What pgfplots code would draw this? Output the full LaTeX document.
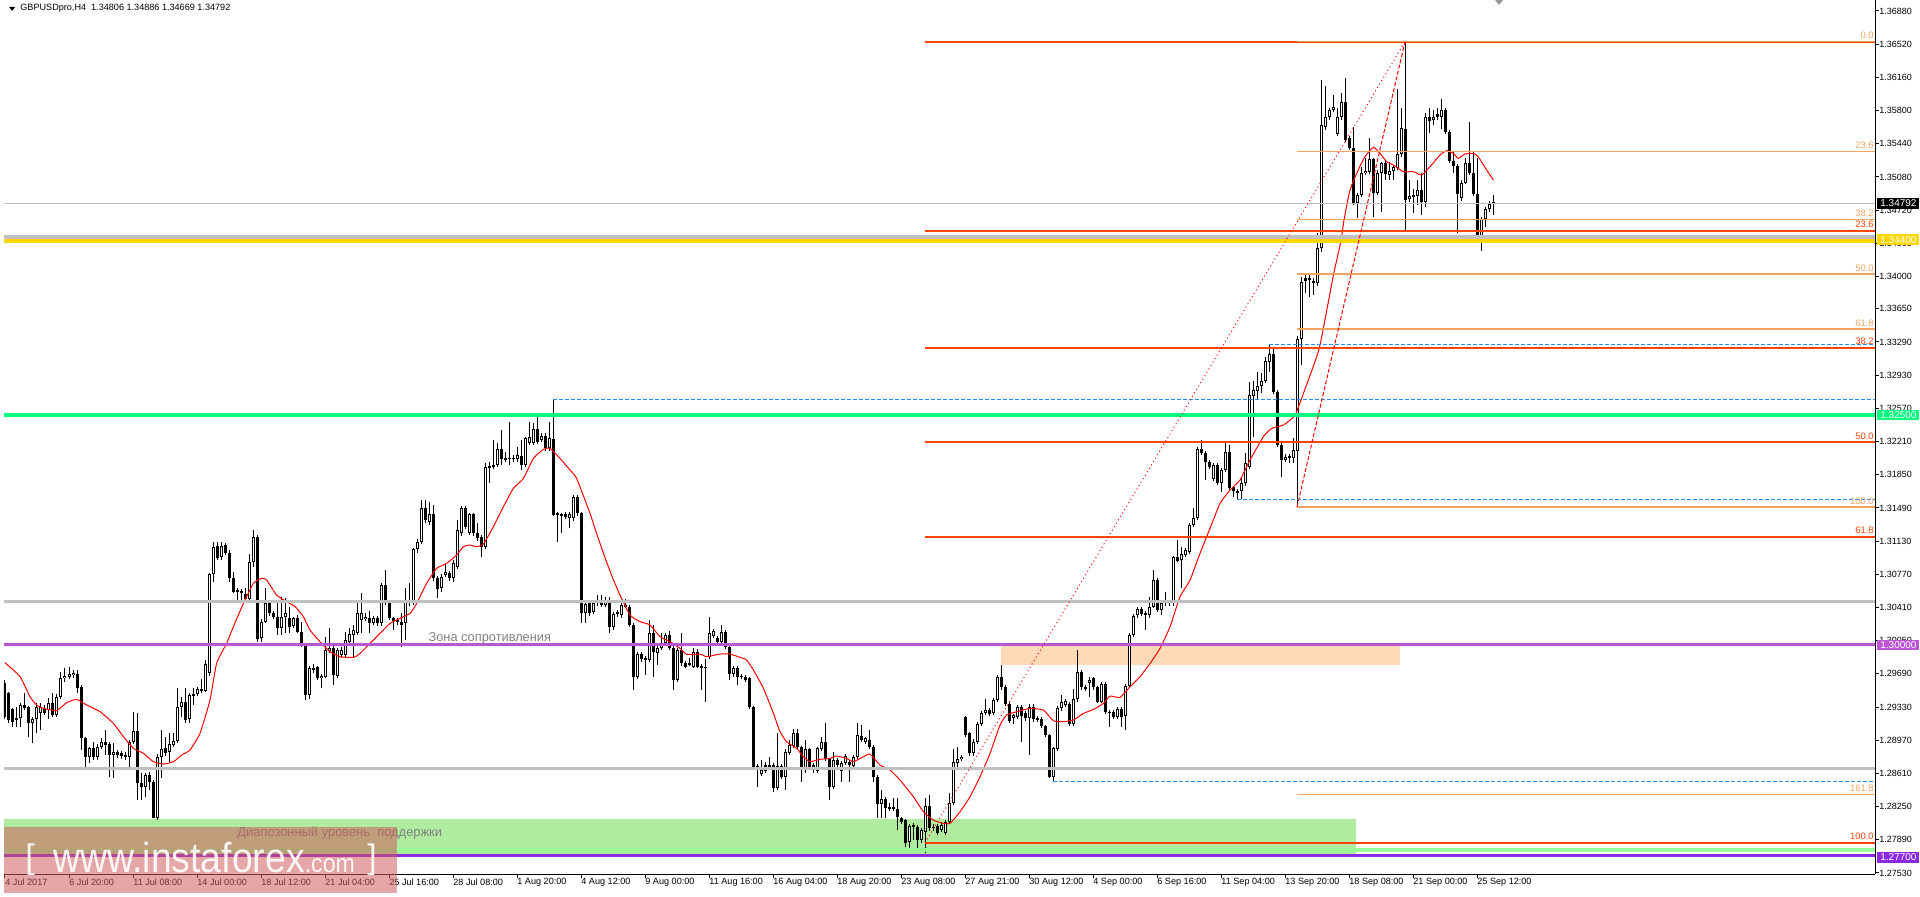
\documentclass[border=0pt]{standalone}
\usepackage{fontspec}
\setmainfont{Liberation Sans}
\usepackage{graphicx}
\usepackage{pgfplots}
\usepackage{pgfplotstable}
\pgfplotsset{compat=1.18}
\definecolor{fibred}{RGB}{255,69,0}
\definecolor{fiborange}{RGB}{244,164,96}
\definecolor{dblue}{RGB}{30,144,255}
\definecolor{silverc}{RGB}{192,192,192}
\definecolor{goldc}{RGB}{255,215,0}
\definecolor{springc}{RGB}{0,255,127}
\definecolor{orchidc}{RGB}{186,85,211}
\definecolor{violetc}{RGB}{138,43,226}
\definecolor{palegreenc}{RGB}{152,251,152}
\definecolor{zonegreen}{RGB}{176,236,160}
\definecolor{peach}{RGB}{255,218,185}
\definecolor{wmred}{RGB}{205,92,92}
\definecolor{txtgrey}{RGB}{128,128,128}

\pgfplotstableread{
x o h l c
0 1.29587 1.29620 1.29200 1.29226
1 1.29479 1.29497 1.29153 1.29189
2 1.29309 1.29320 1.29117 1.29171
3 1.29189 1.29334 1.29117 1.29208
4 1.29208 1.29370 1.29110 1.29352
5 1.29352 1.29479 1.29298 1.29316
6 1.29327 1.29340 1.29009 1.29153
7 1.29153 1.29226 1.28936 1.29200
8 1.29197 1.29370 1.29045 1.29334
9 1.29269 1.29370 1.29081 1.29334
10 1.29305 1.29350 1.29240 1.29269
11 1.29298 1.29424 1.29197 1.29370
12 1.29370 1.29479 1.29226 1.29244
13 1.29244 1.29470 1.29220 1.29443
14 1.29443 1.29714 1.29420 1.29641
15 1.29641 1.29750 1.29600 1.29667
16 1.29659 1.29768 1.29630 1.29688
17 1.29674 1.29732 1.29650 1.29703
18 1.29688 1.29732 1.29479 1.29533
19 1.29551 1.29569 1.28864 1.28991
20 1.28991 1.29009 1.28665 1.28792
21 1.28784 1.28900 1.28719 1.28882
22 1.28882 1.28950 1.28760 1.28792
23 1.28784 1.28930 1.28760 1.28900
24 1.28900 1.28991 1.28880 1.28954
25 1.28954 1.29081 1.28810 1.28918
26 1.28929 1.28950 1.28575 1.28810
27 1.28806 1.28936 1.28557 1.28839
28 1.28839 1.28860 1.28780 1.28810
29 1.28828 1.28850 1.28770 1.28799
30 1.28810 1.28840 1.28760 1.28792
31 1.28792 1.28972 1.28683 1.28954
32 1.28954 1.29280 1.28930 1.29074
33 1.29074 1.29262 1.28322 1.28502
34 1.28502 1.28611 1.28322 1.28466
35 1.28466 1.28620 1.28358 1.28593
36 1.28593 1.28629 1.28430 1.28520
37 1.28520 1.28540 1.28123 1.28130
38 1.28130 1.28820 1.28110 1.28792
39 1.28792 1.29081 1.28557 1.28871
40 1.28882 1.29009 1.28800 1.28835
41 1.28846 1.29045 1.28737 1.28929
42 1.28918 1.29045 1.28900 1.28965
43 1.28965 1.29533 1.28940 1.29327
44 1.29327 1.29443 1.29226 1.29381
45 1.29381 1.29533 1.29153 1.29189
46 1.29197 1.29479 1.29153 1.29461
47 1.29450 1.29533 1.29352 1.29471
48 1.29471 1.29550 1.29450 1.29522
49 1.29522 1.29630 1.29480 1.29508
50 1.29508 1.29840 1.29497 1.29793
51 1.29696 1.30780 1.29670 1.30770
52 1.30770 1.31124 1.30690 1.31070
53 1.31077 1.31124 1.30920 1.30943
54 1.30954 1.31124 1.30930 1.31077
55 1.31088 1.31110 1.30980 1.31005
56 1.31005 1.31030 1.30690 1.30726
57 1.30726 1.30799 1.30563 1.30582
58 1.30600 1.30620 1.30491 1.30574
59 1.30589 1.30610 1.30455 1.30563
60 1.30556 1.30618 1.30491 1.30498
61 1.30498 1.30990 1.30480 1.30907
62 1.30907 1.31251 1.30853 1.31171
63 1.31171 1.31200 1.30039 1.30065
64 1.30075 1.30280 1.30039 1.30256
65 1.30256 1.30618 1.30240 1.30455
66 1.30455 1.30491 1.30320 1.30346
67 1.30346 1.30370 1.30280 1.30303
68 1.30310 1.30455 1.30111 1.30184
69 1.30184 1.30527 1.30111 1.30310
70 1.30303 1.30509 1.30130 1.30346
71 1.30292 1.30412 1.30130 1.30202
72 1.30209 1.30310 1.30190 1.30292
73 1.30299 1.30328 1.30130 1.30148
74 1.30148 1.30255 1.29980 1.30002
75 1.30002 1.30030 1.29406 1.29460
76 1.29460 1.29770 1.29420 1.29749
77 1.29756 1.29800 1.29700 1.29731
78 1.29767 1.29780 1.29620 1.29641
79 1.29641 1.29690 1.29532 1.29666
80 1.29659 1.30093 1.29640 1.29948
81 1.29941 1.30183 1.29920 1.29966
82 1.29966 1.29990 1.29568 1.29677
83 1.29666 1.29970 1.29640 1.29948
84 1.29894 1.29980 1.29860 1.29948
85 1.29894 1.30147 1.29870 1.30056
86 1.30038 1.30183 1.30020 1.30118
87 1.30111 1.30219 1.29876 1.30165
88 1.30129 1.30490 1.30110 1.30346
89 1.30273 1.30570 1.30129 1.30346
90 1.30281 1.30350 1.30260 1.30310
91 1.30299 1.30375 1.30129 1.30245
92 1.30245 1.30320 1.30220 1.30292
93 1.30292 1.30320 1.30210 1.30237
94 1.30237 1.30680 1.30210 1.30653
95 1.30653 1.30816 1.30440 1.30461
96 1.30472 1.30490 1.30270 1.30292
97 1.30292 1.30310 1.30165 1.30263
98 1.30255 1.30300 1.30220 1.30273
99 1.30255 1.30346 1.29984 1.30219
100 1.30237 1.30617 1.30056 1.30490
101 1.30490 1.30671 1.30430 1.30454
102 1.30461 1.31060 1.30440 1.31040
103 1.31040 1.31150 1.31000 1.31123
104 1.31123 1.31575 1.31100 1.31485
105 1.31485 1.31575 1.31330 1.31358
106 1.31340 1.31557 1.31310 1.31423
107 1.31423 1.31521 1.30700 1.30725
108 1.30725 1.30750 1.30508 1.30606
109 1.30617 1.30770 1.30580 1.30744
110 1.30762 1.30881 1.30740 1.30798
111 1.30787 1.30810 1.30700 1.30725
112 1.30725 1.30924 1.30689 1.30888
113 1.30852 1.31358 1.30830 1.31250
114 1.31214 1.31510 1.31190 1.31485
115 1.31485 1.31510 1.31260 1.31286
116 1.31221 1.31440 1.31200 1.31420
117 1.31420 1.31440 1.31190 1.31214
118 1.31221 1.31322 1.31130 1.31159
119 1.31177 1.31200 1.30960 1.31069
120 1.31069 1.31973 1.31040 1.31937
121 1.31944 1.31991 1.31756 1.31926
122 1.31937 1.32226 1.31910 1.31955
123 1.31955 1.32190 1.31937 1.32125
124 1.32125 1.32335 1.31955 1.32016
125 1.32027 1.32100 1.31990 1.32009
126 1.32016 1.32425 1.31955 1.32027
127 1.32027 1.32063 1.31990 1.32016
128 1.32016 1.32154 1.31990 1.32063
129 1.32053 1.32226 1.31901 1.31955
130 1.31955 1.32262 1.31930 1.32244
131 1.32197 1.32425 1.32170 1.32262
132 1.32197 1.32407 1.32170 1.32342
133 1.32342 1.32479 1.32180 1.32208
134 1.32226 1.32298 1.32200 1.32269
135 1.32269 1.32298 1.32110 1.32136
136 1.32136 1.32425 1.32110 1.32244
137 1.32233 1.32671 1.31400 1.31412
138 1.31431 1.31450 1.31123 1.31412
139 1.31420 1.31440 1.31214 1.31402
140 1.31423 1.31450 1.31370 1.31394
141 1.31376 1.31450 1.31268 1.31423
142 1.31376 1.31630 1.31350 1.31611
143 1.31611 1.31630 1.31400 1.31431
144 1.31431 1.31450 1.30237 1.30346
145 1.30346 1.30470 1.30237 1.30447
146 1.30455 1.30480 1.30320 1.30346
147 1.30364 1.30480 1.30340 1.30455
148 1.30455 1.30550 1.30430 1.30491
149 1.30491 1.30550 1.30410 1.30437
150 1.30437 1.30520 1.30410 1.30491
151 1.30491 1.30520 1.30129 1.30202
152 1.30194 1.30360 1.30166 1.30339
153 1.30357 1.30380 1.30310 1.30339
154 1.30328 1.30460 1.30300 1.30437
155 1.30419 1.30500 1.30400 1.30437
156 1.30419 1.30440 1.30200 1.30220
157 1.30220 1.30240 1.29515 1.29659
158 1.29659 1.29930 1.29630 1.29905
159 1.29905 1.29931 1.29820 1.29847
160 1.29858 1.29880 1.29677 1.29840
161 1.29840 1.30274 1.29820 1.30129
162 1.30129 1.30220 1.29659 1.29931
163 1.29920 1.29990 1.29786 1.29967
164 1.29967 1.30129 1.29950 1.30021
165 1.30021 1.30137 1.30000 1.30111
166 1.30111 1.30158 1.29950 1.29967
167 1.29967 1.29990 1.29515 1.29623
168 1.29623 1.29970 1.29600 1.29949
169 1.29949 1.30129 1.29780 1.29804
170 1.29804 1.29830 1.29750 1.29768
171 1.29811 1.29858 1.29770 1.29786
172 1.29768 1.29967 1.29750 1.29931
173 1.29931 1.29956 1.29750 1.29768
174 1.29775 1.29800 1.29515 1.29750
175 1.29750 1.29850 1.29388 1.29768
176 1.29876 1.30303 1.29850 1.30137
177 1.30100 1.30180 1.30080 1.30155
178 1.30075 1.30100 1.30020 1.30039
179 1.30039 1.30220 1.30020 1.30147
180 1.30147 1.30170 1.29960 1.29985
181 1.29985 1.30000 1.29623 1.29688
182 1.29688 1.29770 1.29660 1.29750
183 1.29750 1.29770 1.29569 1.29659
184 1.29667 1.29690 1.29630 1.29652
185 1.29659 1.29680 1.29600 1.29623
186 1.29641 1.29660 1.29310 1.29327
187 1.29327 1.29340 1.28647 1.28683
188 1.28690 1.28710 1.28466 1.28647
189 1.28603 1.28755 1.28580 1.28647
190 1.28701 1.28730 1.28620 1.28640
191 1.28683 1.28791 1.28660 1.28701
192 1.28701 1.28720 1.28412 1.28448
193 1.28448 1.29045 1.28430 1.28690
194 1.28690 1.28710 1.28550 1.28575
195 1.28575 1.28870 1.28430 1.28846
196 1.28835 1.28972 1.28810 1.28918
197 1.28907 1.29088 1.28890 1.29052
198 1.29052 1.29088 1.28870 1.28893
199 1.28893 1.28910 1.28520 1.28665
200 1.28647 1.28972 1.28620 1.28875
201 1.28875 1.28882 1.28660 1.28683
202 1.28701 1.28720 1.28620 1.28647
203 1.28640 1.28900 1.28620 1.28882
204 1.28875 1.29008 1.28850 1.28954
205 1.28954 1.29160 1.28740 1.28763
206 1.28763 1.28780 1.28322 1.28466
207 1.28466 1.28846 1.28440 1.28755
208 1.28755 1.28780 1.28680 1.28701
209 1.28640 1.28750 1.28520 1.28726
210 1.28719 1.28820 1.28700 1.28799
211 1.28737 1.28760 1.28520 1.28701
212 1.28690 1.28810 1.28670 1.28791
213 1.28791 1.29160 1.28770 1.29027
214 1.29016 1.29135 1.28950 1.28972
215 1.28954 1.29010 1.28930 1.28990
216 1.28972 1.29080 1.28880 1.28900
217 1.28900 1.28920 1.28520 1.28575
218 1.28575 1.28590 1.28123 1.28278
219 1.28278 1.28430 1.28123 1.28329
220 1.28329 1.28350 1.28123 1.28231
221 1.28242 1.28285 1.28200 1.28220
222 1.28224 1.28339 1.28200 1.28242
223 1.28220 1.28339 1.27996 1.28133
224 1.28122 1.28140 1.28060 1.28086
225 1.28104 1.28120 1.27815 1.27851
226 1.27869 1.28060 1.27796 1.28039
227 1.28050 1.28068 1.27887 1.28032
228 1.28032 1.28050 1.27796 1.27887
229 1.27887 1.28020 1.27860 1.27995
230 1.27977 1.28339 1.27742 1.28256
231 1.28256 1.28375 1.27990 1.28014
232 1.28014 1.28060 1.27990 1.28032
233 1.28039 1.28060 1.27940 1.27966
234 1.27995 1.28080 1.27970 1.28050
235 1.27959 1.28110 1.27940 1.28086
236 1.28086 1.28393 1.28060 1.28292
237 1.28292 1.28870 1.28270 1.28737
238 1.28719 1.28892 1.28682 1.28762
239 1.28762 1.28810 1.28740 1.28791
240 1.29218 1.29230 1.29000 1.29026
241 1.29044 1.29060 1.28800 1.28827
242 1.28827 1.28980 1.28800 1.28954
243 1.28954 1.29170 1.28930 1.29145
244 1.29145 1.29290 1.29120 1.29261
245 1.29261 1.29413 1.29240 1.29297
246 1.29297 1.29320 1.29230 1.29254
247 1.29261 1.29424 1.29240 1.29406
248 1.29406 1.29680 1.29380 1.29659
249 1.29659 1.29785 1.29520 1.29543
250 1.29550 1.29570 1.29340 1.29362
251 1.29362 1.29380 1.29160 1.29181
252 1.29207 1.29260 1.29150 1.29243
253 1.29218 1.29350 1.29200 1.29326
254 1.29326 1.29350 1.28954 1.29232
255 1.29268 1.29290 1.29180 1.29207
256 1.29207 1.29360 1.28809 1.29333
257 1.29333 1.29360 1.29170 1.29196
258 1.29189 1.29230 1.29170 1.29207
259 1.29196 1.29220 1.29100 1.29124
260 1.29124 1.29140 1.29000 1.29026
261 1.29026 1.29040 1.28560 1.28574
262 1.28574 1.28900 1.28527 1.28881
263 1.28870 1.29340 1.28850 1.29315
264 1.29315 1.29460 1.29290 1.29388
265 1.29351 1.29420 1.29330 1.29398
266 1.29362 1.29380 1.29120 1.29145
267 1.29145 1.29521 1.29120 1.29413
268 1.29413 1.29948 1.29390 1.29713
269 1.29713 1.29730 1.29520 1.29543
270 1.29550 1.29570 1.29500 1.29521
271 1.29594 1.29659 1.29442 1.29623
272 1.29641 1.29660 1.29520 1.29543
273 1.29543 1.29560 1.29370 1.29388
274 1.29388 1.29600 1.29370 1.29579
275 1.29579 1.29600 1.29260 1.29279
276 1.29279 1.29300 1.29116 1.29261
277 1.29279 1.29300 1.29200 1.29225
278 1.29225 1.29330 1.29200 1.29304
279 1.29304 1.29330 1.29116 1.29225
280 1.29232 1.29580 1.29080 1.29561
281 1.29561 1.30130 1.29540 1.30111
282 1.30111 1.30340 1.30090 1.30317
283 1.30328 1.30410 1.30300 1.30389
284 1.30389 1.30410 1.30320 1.30339
285 1.30346 1.30370 1.30165 1.30328
286 1.30328 1.30527 1.30300 1.30418
287 1.30418 1.30816 1.30400 1.30707
288 1.30707 1.30730 1.30360 1.30382
289 1.30382 1.30472 1.30328 1.30454
290 1.30472 1.30581 1.30430 1.30454
291 1.30472 1.30490 1.30430 1.30454
292 1.30454 1.30970 1.30430 1.30953
293 1.30953 1.31141 1.30900 1.30917
294 1.30924 1.31069 1.30617 1.30989
295 1.30979 1.31060 1.30960 1.31033
296 1.31015 1.31330 1.30990 1.31304
297 1.31304 1.31485 1.31280 1.31384
298 1.31384 1.32150 1.31360 1.32125
299 1.32125 1.32226 1.32060 1.32081
300 1.32089 1.32110 1.31792 1.31991
301 1.31991 1.32010 1.31910 1.31930
302 1.31799 1.31980 1.31780 1.31955
303 1.31955 1.31980 1.31740 1.31763
304 1.31763 1.31920 1.31666 1.31901
305 1.31901 1.32208 1.31880 1.32100
306 1.32100 1.32172 1.31680 1.31702
307 1.31713 1.31730 1.31611 1.31676
308 1.31676 1.31700 1.31582 1.31655
309 1.31677 1.31829 1.31583 1.31756
310 1.31756 1.32082 1.31730 1.31973
311 1.31937 1.32859 1.31910 1.32715
312 1.32704 1.32870 1.32263 1.32769
313 1.32761 1.32968 1.32660 1.32812
314 1.32812 1.32949 1.32733 1.32870
315 1.32870 1.33123 1.32850 1.33087
316 1.33076 1.33257 1.32968 1.33159
317 1.33159 1.33239 1.32730 1.32751
318 1.32751 1.32770 1.32150 1.32172
319 1.32172 1.32190 1.31829 1.32010
320 1.32010 1.32070 1.31990 1.32046
321 1.32053 1.32070 1.31973 1.32028
322 1.32028 1.32245 1.31973 1.32118
323 1.32111 1.33350 1.31500 1.33326
324 1.33326 1.33998 1.33040 1.33944
325 1.33980 1.34034 1.33817 1.33955
326 1.33962 1.34034 1.33781 1.33980
327 1.33955 1.33980 1.33799 1.33926
328 1.33926 1.34468 1.33900 1.34306
329 1.34306 1.36132 1.34269 1.35643
330 1.35625 1.36067 1.35589 1.35727
331 1.35727 1.35824 1.35700 1.35806
332 1.35806 1.35969 1.35780 1.35835
333 1.35546 1.35824 1.35520 1.35727
334 1.35727 1.35987 1.35700 1.35897
335 1.35897 1.36150 1.35460 1.35481
336 1.35499 1.35520 1.35370 1.35390
337 1.35390 1.35625 1.34776 1.34801
338 1.34801 1.34910 1.34631 1.34884
339 1.34884 1.35191 1.34860 1.35119
340 1.35119 1.35282 1.35100 1.35148
341 1.35137 1.35499 1.35110 1.35271
342 1.35271 1.35290 1.34649 1.34902
343 1.34902 1.35150 1.34880 1.35126
344 1.35119 1.35246 1.34703 1.35235
345 1.35235 1.35260 1.35047 1.35112
346 1.35101 1.35246 1.35047 1.35148
347 1.35148 1.35210 1.35047 1.35184
348 1.35173 1.36030 1.35150 1.35329
349 1.35329 1.35824 1.35300 1.35607
350 1.35596 1.36547 1.34504 1.34830
351 1.34837 1.35047 1.34810 1.34873
352 1.34866 1.34946 1.34692 1.34884
353 1.34873 1.35047 1.34776 1.34938
354 1.34938 1.35119 1.34667 1.34812
355 1.34812 1.35770 1.34758 1.35727
356 1.35727 1.35824 1.35553 1.35690
357 1.35698 1.35806 1.35643 1.35727
358 1.35763 1.35824 1.35700 1.35727
359 1.35727 1.35922 1.35596 1.35806
360 1.35806 1.35824 1.35550 1.35571
361 1.35571 1.35590 1.35230 1.35257
362 1.35257 1.35354 1.35119 1.35199
363 1.35199 1.35220 1.34468 1.34895
364 1.34848 1.35047 1.34820 1.35011
365 1.35018 1.35282 1.35000 1.35228
366 1.35228 1.35680 1.35100 1.35119
367 1.35119 1.35354 1.34870 1.34895
368 1.34895 1.35282 1.34403 1.34432
369 1.34432 1.34640 1.34280 1.34620
370 1.34620 1.34750 1.34541 1.34729
371 1.34729 1.34823 1.34700 1.34786
372 1.34806 1.34886 1.34669 1.34792
}\candles

\pgfplotsset{candle/.style={draw=none, mark=none, fill=none,
  error bars/y dir=plus, error bars/y explicit, error bars/error mark=none}}

\begin{document}
\begin{tikzpicture}
\path[use as bounding box] (0pt,0pt) rectangle (960pt,448pt);
\begin{axis}[
  at={(2pt,11pt)}, anchor=south west,
  scale only axis, width=935.5pt, height=437pt,
  xmin=-0.25, xmax=467.5, ymin=1.27519, ymax=1.36999,
  axis x line*=bottom, axis y line*=right,
  axis line style={black, line width=0.5pt},
  tick align=outside, major tick length=2pt,
  tick style={black, line width=0.5pt},
  xtick={0,16,...,368},
  xticklabels={4 Jul 2017, 6 Jul 20:00, 11 Jul 08:00, 14 Jul 00:00, 18 Jul 12:00, 21 Jul 04:00, 25 Jul 16:00, 28 Jul 08:00, 1 Aug 20:00, 4 Aug 12:00, 9 Aug 00:00, 11 Aug 16:00, 16 Aug 04:00, 18 Aug 20:00, 23 Aug 08:00, 27 Aug 21:00, 30 Aug 12:00, 4 Sep 00:00, 6 Sep 16:00, 11 Sep 04:00, 13 Sep 20:00, 18 Sep 08:00, 21 Sep 00:00, 25 Sep 12:00},
  xticklabel style={anchor=north west, inner sep=0pt, font=\fontsize{4.55}{5}\selectfont},
  ytick={1.36880,1.36520,1.36160,1.35800,1.35440,1.35080,1.34720,1.34360,1.34000,1.33650,1.33290,1.32930,1.32570,1.32210,1.31850,1.31490,1.31130,1.30770,1.30410,1.30050,1.29690,1.29330,1.28970,1.28610,1.28250,1.27890,1.27530},
  yticklabels={1.36880,1.36520,1.36160,1.35800,1.35440,1.35080,1.34720,1.34360,1.34000,1.33650,1.33290,1.32930,1.32570,1.32210,1.31850,1.31490,1.31130,1.30770,1.30410,1.30050,1.29690,1.29330,1.28970,1.28610,1.28250,1.27890,1.27530},
  yticklabel style={anchor=west, inner sep=0pt, font=\fontsize{4.5}{5}\selectfont},
  clip mode=individual,
]
% zones
\addplot[draw=none, fill=zonegreen] coordinates {(-0.25,1.27722) (337.75,1.27722) (337.75,1.28115) (-0.25,1.28115)} -- cycle;
\addplot[draw=none, fill=peach] coordinates {(249,1.29785) (348.75,1.29785) (348.75,1.30000) (249,1.30000)} -- cycle;

% candles: wicks
\addplot[candle, error bars/error bar style={draw=black, line width=0.5pt}]
  table[x=x, y=l, y error plus expr={\thisrow{h}-\thisrow{l}}] {\candles};
% bearish bodies
\addplot[candle, restrict expr to domain={\thisrow{o}-\thisrow{c}}{0:1},
  error bars/error bar style={draw=black, line width=1.5pt}]
  table[x=x, y=c, y error plus expr={max(\thisrow{o}-\thisrow{c},0.00011)}] {\candles};
% bullish bodies outline
\addplot[candle, restrict expr to domain={\thisrow{c}-\thisrow{o}}{0.0000001:1},
  error bars/error bar style={draw=black, line width=1.5pt}]
  table[x=x, y=o, y error plus expr={max(\thisrow{c}-\thisrow{o},0.00011)}] {\candles};
% bullish bodies interior
\addplot[candle, restrict expr to domain={\thisrow{c}-\thisrow{o}}{0.0000001:1},
  error bars/error bar style={draw=white, line width=0.5pt}]
  table[x=x, y expr={\thisrow{o}+0.000109}, y error plus expr={max(\thisrow{c}-\thisrow{o}-0.000218,0)}] {\candles};

% moving average
\addplot[red, line width=0.5pt, smooth, tension=0.3] coordinates {
(0,1.29811) (3.75,1.29660) (6.25,1.29443) (7.9,1.29352) (9.6,1.29316) (12.9,1.29291) (15.4,1.29377) (17.9,1.29414) (20.4,1.29352) (23.75,1.29280) (27.1,1.29153) (29.6,1.29009) (32.1,1.28882) (34.6,1.28828) (37.1,1.28737) (39.6,1.28712) (42.1,1.28737) (44.2,1.28810) (46.25,1.28864) (48.75,1.29045) (51.25,1.29406) (52.9,1.29804) (55.4,1.30021) (57.1,1.30202) (59.6,1.30455) (62.1,1.30672) (64.2,1.30726) (65.4,1.30708) (67.9,1.30545) (70.4,1.30473) (72.5,1.30420) (74.6,1.30310) (76.25,1.30165) (78.75,1.30038) (81.25,1.29930) (83.75,1.29876) (87.1,1.29868) (88.75,1.29912) (91.25,1.30020) (93.75,1.30129) (96.25,1.30237) (98.75,1.30292) (101.25,1.30346) (102.9,1.30454) (105.4,1.30671) (107.9,1.30834) (110.4,1.30888) (112.9,1.30979) (114.6,1.31069) (116.25,1.31087) (117.9,1.31069) (119.6,1.31098) (122.1,1.31286) (124.6,1.31503) (127.1,1.31702) (129.6,1.31810) (132.1,1.32027) (134.6,1.32125) (136.25,1.32136) (138.75,1.32027) (141.25,1.31901) (142.9,1.31810) (146.25,1.31431) (148,1.31200) (150,1.30950) (152,1.30720) (154,1.30520) (156.25,1.30328) (158.75,1.30256) (161.25,1.30220) (163.75,1.30093) (166.25,1.30039) (168.75,1.29967) (170.4,1.29902) (173.75,1.29905) (175.4,1.29876) (178.75,1.29905) (181.25,1.29905) (183.75,1.29869) (185.4,1.29840) (187.1,1.29732) (189.6,1.29533) (192.1,1.29262) (193.75,1.29063) (195.4,1.28954) (197.9,1.28882) (199.6,1.28791) (201.25,1.28737) (203.75,1.28763) (206.25,1.28773) (207.9,1.28799) (210.4,1.28773) (212.1,1.28737) (214.6,1.28791) (216.25,1.28820) (218.75,1.28701) (221.25,1.28647) (223.75,1.28538) (227.1,1.28357) (229.6,1.28194) (232.1,1.28104) (234.6,1.28068) (236.25,1.28068) (238.75,1.28194) (241.25,1.28357) (243.75,1.28574) (246.25,1.28827) (248.75,1.29134) (250.4,1.29243) (252.9,1.29279) (256.25,1.29315) (259.6,1.29297) (262.1,1.29181) (264.6,1.29171) (267.1,1.29189) (269.6,1.29261) (272.1,1.29304) (274.6,1.29369) (276.25,1.29449) (278.75,1.29434) (281.25,1.29550) (283.75,1.29659) (286.25,1.29803) (288.75,1.29966) (291.25,1.30201) (293.75,1.30527) (296.25,1.30707) (298.75,1.30997) (301.25,1.31268) (303.75,1.31539) (306.25,1.31684) (308.75,1.31792) (311.25,1.32010) (314.6,1.32263) (316.7,1.32353) (319.6,1.32389) (322.5,1.32497) (325,1.32780) (328.6,1.33228) (332.1,1.34016) (334,1.34389) (334.75,1.34613) (336.25,1.34938) (338.3,1.35155) (340,1.35300) (342.1,1.35401) (343.75,1.35336) (345.4,1.35246) (347.1,1.35209) (349.6,1.35137) (352.1,1.35137) (354.2,1.35101) (356.25,1.35191) (358.75,1.35318) (360.4,1.35365) (362.1,1.35336) (363.3,1.35282) (365,1.35329) (367.1,1.35336) (368.3,1.35300) (370.4,1.35155) (372.1,1.35047)};

% horizontal lines
\addplot[silverc, line width=1.25pt] coordinates {(-0.25,1.30473) (467.5,1.30473)};
\addplot[silverc, line width=1.25pt] coordinates {(-0.25,1.28665) (467.5,1.28665)};
\addplot[silverc, line width=0.5pt] coordinates {(-0.25,1.34792) (467.5,1.34792)};
\addplot[silverc, line width=2pt] coordinates {(-0.25,1.34430) (467.5,1.34430)};
\addplot[goldc, line width=2pt] coordinates {(-0.25,1.34390) (467.5,1.34390)};
\addplot[springc, line width=2pt] coordinates {(-0.25,1.32500) (467.5,1.32500)};
\addplot[orchidc, line width=1.6pt] coordinates {(-0.25,1.30005) (467.5,1.30005)};
\addplot[palegreenc, line width=2pt] coordinates {(-0.25,1.27782) (467.5,1.27782)};
\addplot[violetc, line width=1.75pt] coordinates {(-0.25,1.27722) (467.5,1.27722)};
% blue dashed
\addplot[dblue, line width=0.5pt, dash pattern=on 2pt off 1pt] coordinates {(137,1.32671) (467.5,1.32671)};
\addplot[dblue, line width=0.5pt, dash pattern=on 2pt off 1pt] coordinates {(316,1.33264) (467.5,1.33264)};
\addplot[dblue, line width=0.5pt, dash pattern=on 2pt off 1pt] coordinates {(308,1.31576) (467.5,1.31576)};
\addplot[dblue, line width=0.5pt, dash pattern=on 2pt off 1pt] coordinates {(262,1.28527) (467.5,1.28527)};

% red fibonacci
\addplot[fibred, line width=1pt] coordinates {(230,1.36547) (467.5,1.36547)};
\addplot[fibred, line width=1pt] coordinates {(230,1.34496) (467.5,1.34496)};
\addplot[fibred, line width=1pt] coordinates {(230,1.33228) (467.5,1.33228)};
\addplot[fibred, line width=1pt] coordinates {(230,1.32203) (467.5,1.32203)};
\addplot[fibred, line width=1pt] coordinates {(230,1.31177) (467.5,1.31177)};
\addplot[fibred, line width=1pt] coordinates {(230,1.27858) (467.5,1.27858)};
\addplot[red, line width=0.5pt, dash pattern=on 0.5pt off 1.5pt] coordinates {(230,1.27858) (350,1.36547)};
% orange fibonacci
\addplot[fiborange, line width=0.8pt] coordinates {(323,1.36547) (467.5,1.36547)};
\addplot[fiborange, line width=0.8pt] coordinates {(323,1.35356) (467.5,1.35356)};
\addplot[fiborange, line width=0.8pt] coordinates {(323,1.34619) (467.5,1.34619)};
\addplot[fiborange, line width=0.8pt] coordinates {(323,1.34024) (467.5,1.34024)};
\addplot[fiborange, line width=0.8pt] coordinates {(323,1.33428) (467.5,1.33428)};
\addplot[fiborange, line width=0.8pt] coordinates {(323,1.31500) (467.5,1.31500)};
\addplot[fiborange, line width=0.8pt] coordinates {(323,1.28381) (467.5,1.28381)};
\addplot[red, line width=0.5pt, dash pattern=on 2pt off 1pt] coordinates {(323,1.31500) (350,1.36547)};

% fib labels
\begin{scope}[every node/.style={anchor=south east, inner sep=0pt, font=\fontsize{4.7}{5}\selectfont, xshift=-0.5pt, yshift=1.2pt}]
\node[text=fiborange] at (axis cs:467.5,1.36547) {0.0};
\node[text=fiborange] at (axis cs:467.5,1.35356) {23.6};
\node[text=fiborange] at (axis cs:467.5,1.34619) {38.2};
\node[text=fibred] at (axis cs:467.5,1.34496) {23.6};
\node[text=fiborange] at (axis cs:467.5,1.34024) {50.0};
\node[text=fiborange] at (axis cs:467.5,1.33428) {61.8};
\node[text=fibred] at (axis cs:467.5,1.33228) {38.2};
\node[text=fibred] at (axis cs:467.5,1.32203) {50.0};
\node[text=fiborange] at (axis cs:467.5,1.31500) {100.0};
\node[text=fibred] at (axis cs:467.5,1.31177) {61.8};
\node[text=fiborange] at (axis cs:467.5,1.28381) {161.8};
\node[text=fibred] at (axis cs:467.5,1.27858) {100.0};
\end{scope}

% zone texts
\node[anchor=west, inner sep=0pt, text=txtgrey, font=\fontsize{6.4}{7}\selectfont] at (axis cs:105.8,1.30076) {Зона сопротивления};
\node[anchor=west, inner sep=0pt, text=txtgrey, font=\fontsize{6.45}{7}\selectfont] at (axis cs:58,1.27964) {Диапозонный уровень~~поддержки};

\coordinate (tA) at (axis cs:467.5,1.34792);
\coordinate (tB) at (axis cs:467.5,1.34400);
\coordinate (tC) at (axis cs:467.5,1.32500);
\coordinate (tD) at (axis cs:467.5,1.30000);
\coordinate (tE) at (axis cs:467.5,1.27700);
\end{axis}

% price tags
\begin{scope}[every node/.style={anchor=west, xshift=1pt, inner sep=0pt, minimum width=21pt, minimum height=5.2pt, text=white, font=\fontsize{5}{5}\selectfont}]
\node[fill=black] at (tA) {1.34792};
\node[fill=goldc] at (tB) {1.34400};
\node[fill=springc] at (tC) {1.32500};
\node[fill=orchidc] at (tD) {1.30000};
\node[fill=violetc] at (tE) {1.27700};
\end{scope}

% title
\fill[black] (4.6pt,444.5pt) -- (7.6pt,444.5pt) -- (6.1pt,442.6pt) -- cycle;
\node[anchor=base west, inner sep=0pt, font=\fontsize{4.55}{5}\selectfont] at (10pt,442.5pt) {GBPUSDpro,H4\ \ 1.34806 1.34886 1.34669 1.34792};
\fill[black!40] (747.5pt,448pt) -- (751.5pt,448pt) -- (749.5pt,445.5pt) -- cycle;

% watermark
\fill[wmred, opacity=0.55] (2pt,1.5pt) rectangle (198.5pt,34.5pt);
\node[anchor=base west, inner sep=0pt, text=white, text opacity=0.9] at (26.5pt,12pt) {\scalebox{0.89}[1]{\fontsize{21}{21}\selectfont www.instaforex\fontsize{13}{13}\selectfont.com}};
\node[anchor=base west, inner sep=0pt, text=white, text opacity=0.9, font=\fontsize{17}{17}\selectfont] at (12.5pt,14pt) {[};
\node[anchor=base west, inner sep=0pt, text=white, text opacity=0.9, font=\fontsize{17}{17}\selectfont] at (183.5pt,14pt) {]};
\end{tikzpicture}
\end{document}
